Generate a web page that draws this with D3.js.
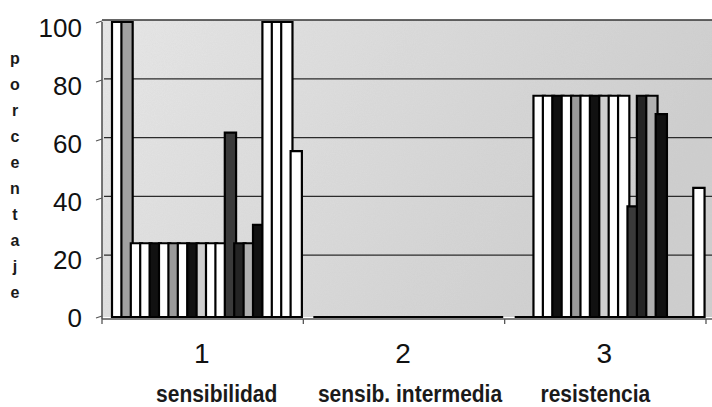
<!DOCTYPE html>
<html>
<head>
<meta charset="utf-8">
<script src="https://cdn.jsdelivr.net/npm/d3@7"></script>
<style>
  html, body { margin: 0; padding: 0; background: #fff; }
  svg { display: block; font-family: "Liberation Sans", Arial, sans-serif; }
</style>
</head>
<body>
<svg id="chart" width="712" height="407"></svg>
<script>
// ---- data ----
const categories = ["1", "2", "3"];
const categoryNames = ["sensibilidad", "sensib. intermedia", "resistencia"];
const yTicks = [0, 20, 40, 60, 80, 100];
const yTitle = "porcentaje";
// one value per series (20 series) for each category
const sensibilidad = [100, 100, 25, 25, 25, 25, 25, 25, 25, 25, 25, 25, 62.5, 25, 25, 31.25, 100, 100, 100, 56.25];
const intermedia   = [0, 0, 0, 0, 0, 0, 0, 0, 0, 0, 0, 0, 0, 0, 0, 0, 0, 0, 0, 0];
const resistencia  = [0, 0, 75, 75, 75, 75, 75, 75, 75, 75, 75, 75, 37.5, 75, 75, 68.75, 0, 0, 0, 43.75];
const valuesByCategory = [sensibilidad, intermedia, resistencia];

// ---- styles ----
const seriesFill = ["#ffffff", "#a0a0a0", "#ffffff", "#ffffff", "#111111", "#ffffff", "#9a9a9a", "#ffffff",
                    "#111111", "#cfcfcf", "#ffffff", "#ffffff", "#3a3a3a", "#242424", "#b0b0b0", "#111111",
                    "#ffffff", "#ffffff", "#ffffff", "#ffffff"];
const nameOffsets = [14, 6, -10];

const svg = d3.select("#chart");
const W = 712, H = 407;

const x0 = d3.scaleBand().domain(categories).range([102, 706]).paddingInner(0).paddingOuter(0);
const x1 = d3.scaleBand().domain(d3.range(sensibilidad.length)).range([10, 198]);
const barW = x1.step() * 1.2;
const yBar = d3.scaleLinear().domain([0, 100]).range([317, 22]);
const yWall = d3.scaleLinear().domain([0, 100]).range([314, 20]);
const yLabel = d3.scaleLinear().domain([0, 100]).range([318, 28]);

// background gradient
const defs = svg.append("defs");
const grad = defs.append("linearGradient").attr("id", "bg").attr("x1", "0").attr("y1", "0").attr("x2", "1").attr("y2", "0.3");
grad.append("stop").attr("offset", "0").attr("stop-color", "#e8e8e8");
grad.append("stop").attr("offset", "1").attr("stop-color", "#cfcfcf");
const noise = defs.append("filter").attr("id", "noise").attr("x", 0).attr("y", 0).attr("width", 1).attr("height", 1);
noise.append("feTurbulence").attr("type", "fractalNoise").attr("baseFrequency", 0.9).attr("numOctaves", 1).attr("seed", 3).attr("result", "t");
noise.append("feColorMatrix").attr("in", "t").attr("type", "matrix")
  .attr("values", "0 0 0 0 0.5  0 0 0 0 0.5  0 0 0 0 0.5  0 0 0 0.18 0").attr("result", "n");
noise.append("feComposite").attr("in", "n").attr("in2", "SourceGraphic").attr("operator", "in").attr("result", "nn");
noise.append("feMerge").call(m => { m.append("feMergeNode").attr("in", "SourceGraphic"); m.append("feMergeNode").attr("in", "nn"); });

const plotLeft = x0.range()[0], plotRight = W;
svg.append("rect")
  .attr("x", plotLeft).attr("y", yWall(100))
  .attr("width", plotRight - plotLeft).attr("height", yBar(0) - yWall(100))
  .attr("fill", "url(#bg)").attr("filter", "url(#noise)");

// gridlines
svg.append("g").selectAll("line").data(yTicks.filter(v => v > 0 && v < 100)).join("line")
  .attr("x1", plotLeft + 2).attr("x2", plotRight)
  .attr("y1", d => yWall(d)).attr("y2", d => yWall(d))
  .attr("stroke", "#2b2b2b").attr("stroke-width", 1.3);
// top border
svg.append("line").attr("x1", plotLeft).attr("x2", plotRight)
  .attr("y1", yWall(100)).attr("y2", yWall(100)).attr("stroke", "#333").attr("stroke-width", 1.6);

// bars
const barsG = svg.append("g");
categories.forEach((c, ci) => {
  const vals = valuesByCategory[ci];
  vals.forEach((v, si) => {
    const x = x0(c) + x1(si);
    barsG.append("path")
      .attr("d", `M${x},${yBar(0)}V${yBar(v)}H${x + barW}V${yBar(0)}Z`)
      .attr("fill", seriesFill[si])
      .attr("stroke", "#000")
      .attr("stroke-width", 2.2)
      .attr("stroke-linejoin", "miter");
  });
});

// y axis
svg.append("line").attr("x1", plotLeft).attr("x2", plotLeft)
  .attr("y1", yBar(100)).attr("y2", yBar(0) + 2).attr("stroke", "#555").attr("stroke-width", 1.6);
svg.append("g").selectAll("line").data(yTicks).join("line")
  .attr("x1", plotLeft - 6).attr("x2", plotLeft)
  .attr("y1", d => yBar(d) + 1).attr("y2", d => yBar(d) - 1)
  .attr("stroke", "#555").attr("stroke-width", 1.3);
svg.append("g").selectAll("text").data(yTicks).join("text")
  .attr("x", 82).attr("y", d => yLabel(d))
  .attr("text-anchor", "end").attr("dominant-baseline", "central")
  .attr("font-size", 26).attr("fill", "#111")
  .text(d => d);

// x axis
svg.append("line").attr("x1", plotLeft).attr("x2", plotRight)
  .attr("y1", yBar(0) + 2).attr("y2", yBar(0) + 2).attr("stroke", "#555").attr("stroke-width", 1.4);
const bounds = categories.map(c => x0(c)).concat([x0.range()[1]]);
svg.append("g").selectAll("line").data(bounds).join("line")
  .attr("x1", d => d).attr("x2", d => d)
  .attr("y1", yBar(0) + 2).attr("y2", yBar(0) + 7)
  .attr("stroke", "#555").attr("stroke-width", 1.3);
svg.append("g").selectAll("text").data(categories).join("text")
  .attr("x", d => x0(d) + x0.bandwidth() / 2 - 1).attr("y", 353)
  .attr("text-anchor", "middle").attr("dominant-baseline", "central")
  .attr("font-size", 28).attr("fill", "#111")
  .text(d => d);
svg.append("g").selectAll("text").data(categoryNames).join("text")
  .attr("transform", (d, i) => `translate(${x0(categories[i]) + x0.bandwidth() / 2 + nameOffsets[i]},402) scale(1,1.15)`)
  .attr("text-anchor", "middle")
  .attr("font-size", 21).attr("font-weight", "bold").attr("fill", "#1a1a1a")
  .text(d => d);

// y title: stacked letters
svg.append("g").selectAll("text").data(yTitle.split("")).join("text")
  .attr("x", 15).attr("y", (d, i) => 58 + i * 26.1)
  .attr("text-anchor", "middle").attr("dominant-baseline", "central")
  .attr("font-size", 16).attr("font-weight", "bold").attr("fill", "#1a1a1a")
  .text(d => d);
</script>
</body>
</html>
